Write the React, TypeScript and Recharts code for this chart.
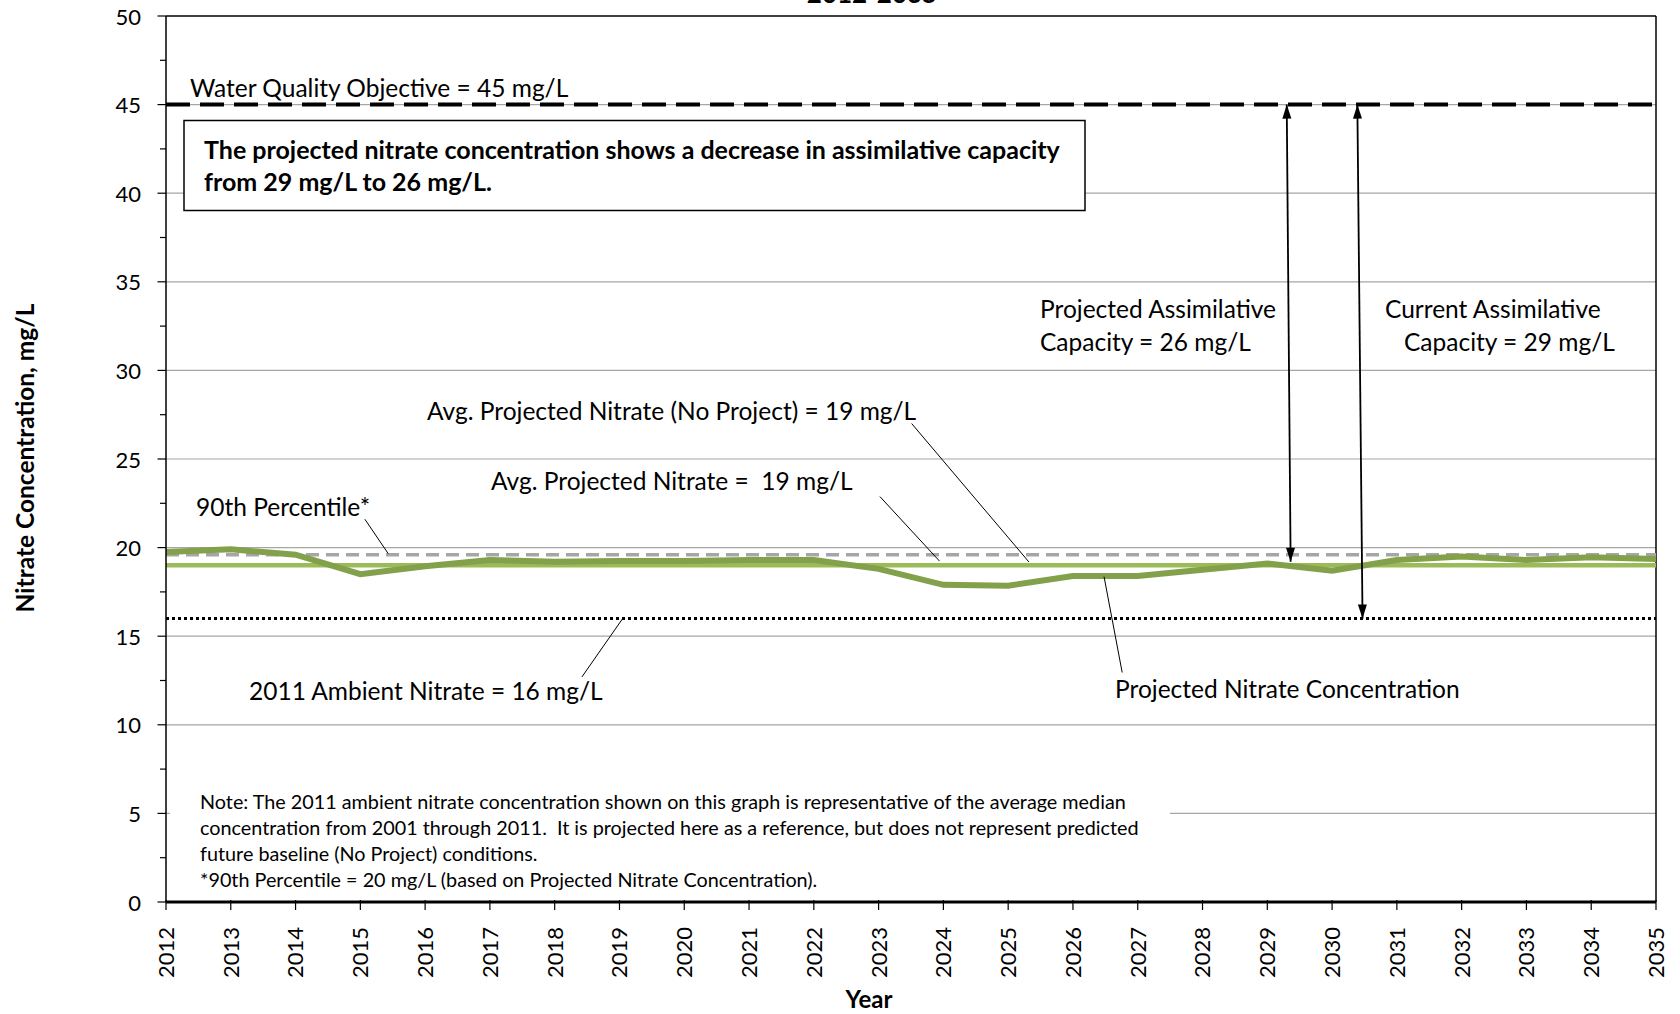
import React from 'react';
import { LineChart, Line, XAxis, YAxis, ReferenceLine } from 'recharts';

const YEARS = [2012, 2013, 2014, 2015, 2016, 2017, 2018, 2019, 2020, 2021, 2022, 2023, 2024, 2025, 2026, 2027, 2028, 2029, 2030, 2031, 2032, 2033, 2034, 2035];
const PROJECTED = [19.75, 19.9, 19.6, 18.5, 18.95, 19.3, 19.2, 19.25, 19.25, 19.3, 19.3, 18.8, 17.9, 17.85, 18.4, 18.4, 18.75, 19.1, 18.7, 19.3, 19.5, 19.3, 19.45, 19.35];
const Y_TICKS = [0, 2.5, 5, 7.5, 10, 12.5, 15, 17.5, 20, 22.5, 25, 27.5, 30, 32.5, 35, 37.5, 40, 42.5, 45, 47.5, 50];
const GRID_VALUES = [5, 10, 15, 20, 25, 30, 35, 40, 45];

const WATER_QUALITY_OBJECTIVE = 45;
const AMBIENT_2011 = 16;
const PERCENTILE_90 = 19.6;
const AVG_PROJECTED = 19;

// leader lines for the labels, in data units [year, mg/L]
const LEADERS = [
  [[2015.07, 21.6], [2015.43, 19.66]],
  [[2023.51, 27.0], [2025.32, 19.19]],
  [[2023.02, 22.88], [2023.94, 19.24]],
  [[2019.05, 16.0], [2018.42, 12.7]],
  [[2026.48, 18.36], [2026.76, 12.95]],
];
// assimilative capacity arrows
const ARROWS = [
  [[2029.3, 45], [2029.36, 19.2]],
  [[2030.39, 45], [2030.47, 16]],
];

const FONT = 'Lato, "Open Sans", sans-serif';
const data = YEARS.map((year, i) => ({ year, projected: PROJECTED[i] }));

const YTick = (props: any) => {
  const { x, y, payload } = props;
  const major = payload.value % 5 === 0;
  return (
    <g>
      <line x1={x - (major ? 8.5 : 6)} x2={x} y1={y} y2={y} stroke="#000" strokeWidth={1.2} />
      {major && (
        <text x={x - 25} y={y} textAnchor="end" dominantBaseline="central" fontSize={22} fontFamily={FONT} fill="#000">
          {payload.value}
        </text>
      )}
    </g>
  );
};

const XTick = (props: any) => {
  const { x, y, payload } = props;
  return (
    <g>
      <line x1={x} x2={x} y1={y - 2} y2={y + 8} stroke="#000" strokeWidth={1.2} />
      <text x={x} y={y + 25} transform={`rotate(-90 ${x} ${y + 25})`} textAnchor="end" dy="0.36em" fontSize={22} fontFamily={FONT} fill="#000">
        {payload.value}
      </text>
    </g>
  );
};

const head = (tx: number, ty: number, fx: number, fy: number) => {
  const a = Math.atan2(ty - fy, tx - fx);
  const L = 14, W = 4.5;
  const bx = tx - L * Math.cos(a), by = ty - L * Math.sin(a);
  return `${tx},${ty} ${bx + W * Math.sin(a)},${by - W * Math.cos(a)} ${bx - W * Math.sin(a)},${by + W * Math.cos(a)}`;
};

const arrowShape = (props: any) => {
  const { x1, y1, x2, y2 } = props;
  return (
    <g>
      <line x1={x1} y1={y1} x2={x2} y2={y2} stroke="#000" strokeWidth={1.8} />
      <polygon points={head(x1, y1, x2, y2)} fill="#000" />
      <polygon points={head(x2, y2, x1, y1)} fill="#000" />
    </g>
  );
};

const txt = { fontFamily: FONT, fontSize: 24.5, fill: '#000', style: { whiteSpace: 'pre' } } as const;
const note = { fontFamily: FONT, fontSize: 19.8, fill: '#000', style: { whiteSpace: 'pre' } } as const;

export default function App() {
  return (
    <div style={{ position: 'absolute', left: 0, top: 0, width: 1680, height: 1014, background: '#fff' }}>
      <LineChart width={1680} height={1014} data={data} margin={{ top: 16, right: 24, left: 0, bottom: 0 }}>
        {GRID_VALUES.map(v => (
          <ReferenceLine key={`g${v}`} y={v} stroke="#a6a6a6" strokeWidth={1.2} />
        ))}
        <ReferenceLine y={50} stroke="#000" strokeWidth={1.5} />
        <ReferenceLine x={2035} stroke="#000" strokeWidth={1.5} />
        <XAxis
          dataKey="year"
          type="number"
          domain={[2012, 2035]}
          ticks={YEARS}
          allowDataOverflow
          height={112}
          tickSize={0}
          tickMargin={0}
          tick={<XTick />}
          axisLine={{ stroke: '#000', strokeWidth: 3 }}
          interval={0}
        />
        <YAxis
          type="number"
          domain={[0, 50]}
          ticks={Y_TICKS}
          allowDataOverflow
          width={166}
          tickSize={0}
          tickMargin={0}
          tick={<YTick />}
          axisLine={{ stroke: '#000', strokeWidth: 1.5 }}
          interval={0}
        />
        <ReferenceLine y={PERCENTILE_90} stroke="#a6a6a6" strokeWidth={3.5} strokeDasharray="13 7" />
        <ReferenceLine y={AMBIENT_2011} stroke="#000" strokeWidth={3} strokeDasharray="3 3" />
        <ReferenceLine y={WATER_QUALITY_OBJECTIVE} stroke="#000" strokeWidth={4} strokeDasharray="24 10" />
        <ReferenceLine y={AVG_PROJECTED} stroke="#9bbb59" strokeWidth={4.5} />
        <Line dataKey="projected" stroke="#82a14a" strokeWidth={6} dot={false} isAnimationActive={false} />
        {LEADERS.map((s, i) => (
          <ReferenceLine
            key={`l${i}`}
            segment={[{ x: s[0][0], y: s[0][1] }, { x: s[1][0], y: s[1][1] }]}
            stroke="#000"
            strokeWidth={1}
          />
        ))}
        {ARROWS.map((s, i) => (
          <ReferenceLine
            key={`a${i}`}
            segment={[{ x: s[0][0], y: s[0][1] }, { x: s[1][0], y: s[1][1] }]}
            shape={arrowShape}
          />
        ))}
      </LineChart>

      <svg width={1680} height={1014} style={{ position: 'absolute', left: 0, top: 0, pointerEvents: 'none' }}>
        <text x={872} y={3} textAnchor="middle" fontFamily={FONT} fontWeight="bold" fontSize={26} fill="#000">2012-2035</text>

        <text x={24} y={458} transform="rotate(-90 24 458)" textAnchor="middle" dominantBaseline="central" fontFamily={FONT} fontWeight="bold" fontSize={24.5} fill="#000">
          Nitrate Concentration, mg/L
        </text>
        <text x={869} y={998} textAnchor="middle" dominantBaseline="central" fontFamily={FONT} fontWeight="bold" fontSize={24} fill="#000">Year</text>

        <text x={190} y={87} dominantBaseline="central" {...txt}>Water Quality Objective = 45 mg/L</text>

        <rect x={184} y={120.5} width={901} height={90} fill="#fff" stroke="#000" strokeWidth={1.5} />
        <text x={204} y={148.5} dominantBaseline="central" {...txt} fontSize={25} fontWeight="bold">
          The projected nitrate concentration shows a decrease in assimilative capacity
        </text>
        <text x={204} y={180.5} dominantBaseline="central" {...txt} fontSize={25} fontWeight="bold">from 29 mg/L to 26 mg/L.</text>

        <text x={1040} y={308} dominantBaseline="central" {...txt}>Projected Assimilative</text>
        <text x={1040} y={341} dominantBaseline="central" {...txt}>Capacity = 26 mg/L</text>
        <text x={1385} y={308} dominantBaseline="central" {...txt}>Current Assimilative</text>
        <text x={1404} y={341} dominantBaseline="central" {...txt}>Capacity = 29 mg/L</text>

        <text x={427} y={410} dominantBaseline="central" {...txt}>Avg. Projected Nitrate (No Project) = 19 mg/L</text>
        <text x={491} y={480} dominantBaseline="central" {...txt}>Avg. Projected Nitrate =  19 mg/L</text>
        <text x={196} y={506} dominantBaseline="central" {...txt}>90th Percentile*</text>
        <text x={249} y={690} dominantBaseline="central" {...txt}>2011 Ambient Nitrate = 16 mg/L</text>
        <text x={1115} y={688} dominantBaseline="central" {...txt}>Projected Nitrate Concentration</text>

        <rect x={170} y={788} width={1000} height={104} fill="#fff" />
        <text x={200} y={801} dominantBaseline="central" {...note}>
          Note: The 2011 ambient nitrate concentration shown on this graph is representative of the average median
        </text>
        <text x={200} y={827} dominantBaseline="central" {...note}>
          {'concentration from 2001 through 2011.  It is projected here as a reference, but does not represent predicted'}
        </text>
        <text x={200} y={853} dominantBaseline="central" {...note}>
          future baseline (No Project) conditions.
        </text>
        <text x={200} y={879} dominantBaseline="central" {...note}>
          *90th Percentile = 20 mg/L (based on Projected Nitrate Concentration).
        </text>
      </svg>
    </div>
  );
}
